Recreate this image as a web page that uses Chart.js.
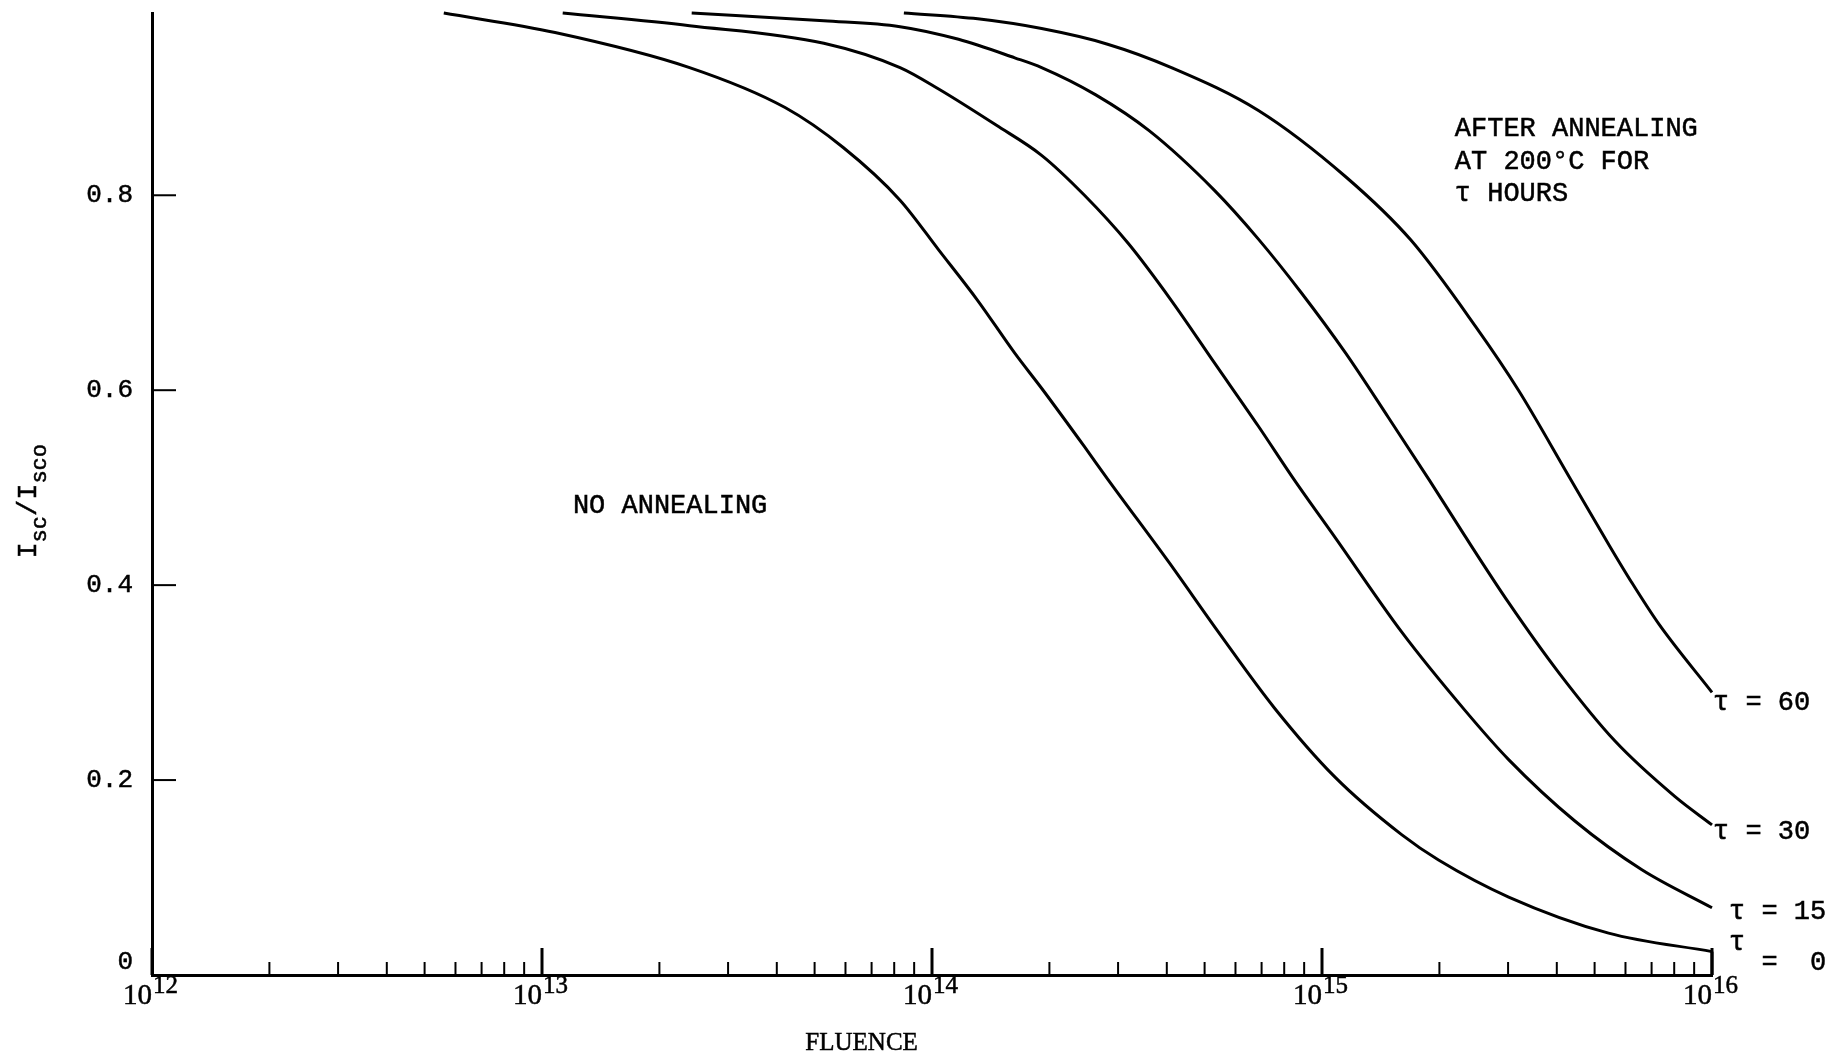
<!DOCTYPE html>
<html>
<head>
<meta charset="utf-8">
<script src="https://cdn.jsdelivr.net/npm/chart.js@4.4.1/dist/chart.umd.min.js"></script>
<style>
  html, body { margin: 0; padding: 0; background: #fff; }
</style>
</head>
<body>
<canvas id="chart" width="1844" height="1060"></canvas>
<script>
// values (fluence, Isc/Isco)
const fluenceTau0 = [5.6e12, 1.08e13, 2.39e13, 4.2e13, 5.92e13, 8.28e13, 1.04e14, 1.31e14, 1.63e14, 1.91e14, 2.46e14, 2.83e14, 4.04e14, 5.42e14, 7.55e14, 1.08e15, 1.6e15, 1.99e15, 3.01e15, 5.43e15, 1e16];
const iscTau0 = [0.987, 0.967, 0.931, 0.890, 0.849, 0.795, 0.744, 0.692, 0.638, 0.602, 0.542, 0.508, 0.424, 0.352, 0.274, 0.203, 0.144, 0.118, 0.080, 0.043, 0.024];

const fluenceTau15 = [1.13e13, 2.39e13, 5.28e13, 8.28e13, 1.04e14, 1.46e14, 1.91e14, 2.46e14, 3.18e14, 4.11e14, 5.3e14, 6.87e14, 8.49e14, 1.08e15, 1.6e15, 2.32e15, 3.01e15, 4.45e15, 6.61e15, 1e16];
const iscTau15 = [0.987, 0.974, 0.956, 0.931, 0.909, 0.872, 0.841, 0.800, 0.751, 0.692, 0.628, 0.563, 0.508, 0.449, 0.352, 0.272, 0.221, 0.158, 0.108, 0.069];

const fluenceTau30 = [2.42e13, 5.28e13, 8.28e13, 1.17e14, 1.63e14, 1.91e14, 2.63e14, 3.61e14, 5.3e14, 6.87e14, 8.85e14, 1.15e15, 1.48e15, 1.89e15, 2.32e15, 3.01e15, 4.05e15, 5.64e15, 8.04e15, 1e16];
const iscTau30 = [0.987, 0.979, 0.973, 0.960, 0.941, 0.931, 0.903, 0.866, 0.805, 0.755, 0.700, 0.638, 0.572, 0.507, 0.451, 0.382, 0.310, 0.240, 0.183, 0.154];

const fluenceTau60 = [8.47e13, 1.31e14, 1.91e14, 2.82e14, 4.11e14, 6.87e14, 1.15e15, 1.69e15, 2.48e15, 3.19e15, 4.32e15, 5.43e15, 6.22e15, 7.31e15, 1e16];
const iscTau60 = [0.987, 0.981, 0.971, 0.955, 0.931, 0.887, 0.819, 0.754, 0.665, 0.600, 0.510, 0.442, 0.403, 0.360, 0.290];

// short vertical closing segment at the right end of the tau = 0 curve
const edgeFluence = [1e16, 1e16];
const edgeIsc = [0, 0.024];

// axis ticks
const decadeExponents = [12, 13, 14, 15, 16];
const minorMantissas = [2, 3, 4, 5, 6, 7, 8, 9];
const yTickValues = [0, 0.2, 0.4, 0.6, 0.8];
const yTickLabels = ["0", "0.2", "0.4", "0.6", "0.8"];

const MONO = "'Liberation Mono', monospace";
const SERIF = "'Liberation Serif', serif";

function pts(xs, ys) {
  return xs.map((x, i) => ({ x: x, y: ys[i] }));
}

function curve(xs, ys) {
  return {
    data: pts(xs, ys),
    borderColor: "#000",
    borderWidth: 3,
    pointRadius: 0,
    cubicInterpolationMode: "monotone",
    clip: false,
  };
}

function typed(ctx, text, x, y) {
  ctx.fillText(text, x, y);
  ctx.strokeText(text, x, y);
}

const decorations = {
  id: "decorations",
  afterDraw(chart) {
    const ctx = chart.ctx;
    const xs = chart.scales.x;
    const ys = chart.scales.y;
    const base = ys.getPixelForValue(0);
    const left = xs.getPixelForValue(1e12);

    ctx.save();
    ctx.strokeStyle = "#000";
    ctx.fillStyle = "#000";

    // x tick marks, pointing into the plot
    xs.ticks.forEach((t) => {
      const px = xs.getPixelForValue(t.value);
      ctx.lineWidth = t.major ? 3 : 2;
      ctx.beginPath();
      ctx.moveTo(px, base);
      ctx.lineTo(px, base - (t.major ? 27 : 13));
      ctx.stroke();
    });

    // y tick marks
    ctx.lineWidth = 2;
    yTickValues.forEach((v) => {
      if (v === 0) return;
      const py = ys.getPixelForValue(v);
      ctx.beginPath();
      ctx.moveTo(left, py);
      ctx.lineTo(left + 24, py);
      ctx.stroke();
    });

    ctx.lineWidth = 0.5;

    // y tick labels
    ctx.font = "26px " + MONO;
    ctx.textAlign = "right";
    ctx.textBaseline = "middle";
    yTickValues.forEach((v, i) => {
      const py = ys.getPixelForValue(v) - (v === 0 ? 13 : 0);
      typed(ctx, yTickLabels[i], left - 19, py);
    });

    // x tick labels 10^n
    ctx.textBaseline = "alphabetic";
    decadeExponents.forEach((e) => {
      const px = xs.getPixelForValue(Math.pow(10, e));
      ctx.font = "29px " + SERIF;
      ctx.textAlign = "right";
      typed(ctx, "10", px, base + 29);
      ctx.font = "25px " + SERIF;
      ctx.textAlign = "left";
      typed(ctx, String(e), px + 1, base + 18);
    });

    // x title
    ctx.font = "25px " + SERIF;
    ctx.textAlign = "center";
    typed(ctx, "FLUENCE", xs.getPixelForValue(6.6e13), base + 75);

    // y title, rotated, with subscripts
    const parts = [["I", false], ["sc", true], ["/", false], ["I", false], ["sco", true]];
    ctx.save();
    ctx.translate(36, ys.getPixelForValue(0.486));
    ctx.rotate(-Math.PI / 2);
    ctx.textAlign = "left";
    let total = 0;
    parts.forEach((p) => {
      ctx.font = (p[1] ? "22px " : "27px ") + MONO;
      total += ctx.measureText(p[0]).width;
    });
    let cx = -total / 2;
    parts.forEach((p) => {
      ctx.font = (p[1] ? "22px " : "27px ") + MONO;
      typed(ctx, p[0], cx, p[1] ? 10 : 0);
      cx += ctx.measureText(p[0]).width;
    });
    ctx.restore();

    // annotations
    ctx.font = "27px " + MONO;
    ctx.textAlign = "left";
    ctx.textBaseline = "middle";
    typed(ctx, "NO ANNEALING", xs.getPixelForValue(1.2e13), ys.getPixelForValue(0.481));
    const ax = xs.getPixelForValue(2.19e15);
    const ay = ys.getPixelForValue(0.868);
    typed(ctx, "AFTER ANNEALING", ax, ay);
    typed(ctx, "AT 200°C FOR", ax, ay + 32.5);
    typed(ctx, "τ HOURS", ax, ay + 65);

    // curve labels at the right end
    const ex = xs.getPixelForValue(1e16);
    typed(ctx, "τ = 60", ex + 1, ys.getPixelForValue(0.290) + 10);
    typed(ctx, "τ = 30", ex + 1, ys.getPixelForValue(0.154) + 7);
    typed(ctx, "τ = 15", ex + 17, ys.getPixelForValue(0.069) + 4);
    typed(ctx, "τ", ex + 17, ys.getPixelForValue(0.024) - 9);
    typed(ctx, "  =  0", ex + 17, ys.getPixelForValue(0.024) + 11);

    ctx.restore();
  },
};

const ctx = document.getElementById("chart").getContext("2d");
new Chart(ctx, {
  type: "line",
  data: {
    datasets: [
      curve(fluenceTau0, iscTau0),
      curve(fluenceTau15, iscTau15),
      curve(fluenceTau30, iscTau30),
      curve(fluenceTau60, iscTau60),
      Object.assign(curve(edgeFluence, edgeIsc), { cubicInterpolationMode: "default", tension: 0 }),
    ],
  },
  options: {
    responsive: false,
    animation: false,
    layout: { padding: { left: 0, top: 13, right: 132, bottom: 0 } },
    plugins: { legend: { display: false }, tooltip: { enabled: false } },
    scales: {
      x: {
        type: "logarithmic",
        min: 1e12,
        max: 1e16,
        grid: { display: false },
        border: { display: true, color: "#000", width: 3 },
        ticks: { display: false },
        afterBuildTicks: (scale) => {
          const list = [];
          decadeExponents.forEach((e, i) => {
            list.push({ value: Math.pow(10, e), major: true });
            if (i < decadeExponents.length - 1) {
              minorMantissas.forEach((m) => list.push({ value: m * Math.pow(10, e), major: false }));
            }
          });
          scale.ticks = list;
        },
        afterFit: (scale) => { scale.height = 85; },
      },
      y: {
        min: 0,
        max: 0.987,
        grid: { display: false },
        border: { display: true, color: "#000", width: 3 },
        ticks: { display: false },
        afterFit: (scale) => { scale.width = 152; },
      },
    },
  },
  plugins: [decorations],
});
</script>
</body>
</html>
